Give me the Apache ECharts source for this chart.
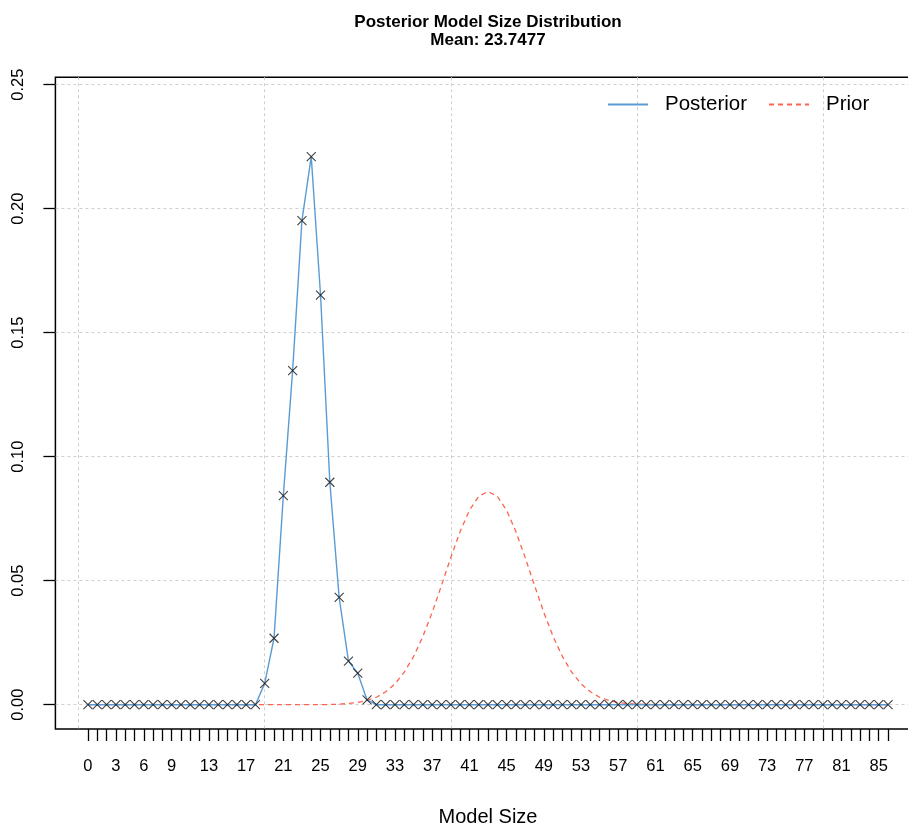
<!DOCTYPE html>
<html><head><meta charset="utf-8">
<script src="https://cdn.jsdelivr.net/npm/echarts@6/dist/echarts.min.js"></script>
<style>html,body{margin:0;padding:0;background:#fff}#chart{width:908px;height:825px}</style>
</head><body><div id="chart"></div>
<script>
const modelSize = [0,1,2,3,4,5,6,7,8,9,10,11,12,13,14,15,16,17,18,19,20,21,22,23,24,25,26,27,28,29,30,31,32,33,34,35,36,37,38,39,40,41,42,43,44,45,46,47,48,49,50,51,52,53,54,55,56,57,58,59,60,61,62,63,64,65,66,67,68,69,70,71,72,73,74,75,76,77,78,79,80,81,82,83,84,85,86];
const posterior = [0,0,0,0,0,0,0,0,0,0,0,0,0,0,0,0,0,0,0,
  0.0086,0.0268,0.0843,0.1347,0.1952,0.2210,0.1652,0.0897,0.0433,0.0176,0.0127,0.0019,
  0,0,0,0,0,0,0,0,0,0,0,0,0,0,0,0,0,0,0,0,0,0,0,0,0,0,0,0,0,0,0,0,0,0,0,0,0,0,0,0,0,0,0,0,0,0,0,0,0,0,0,0,0,0,0,0];
const prior = [0,0,0,0,0,0,0,0,0,0,0,0,0,0,0,0,0,0,0,0,0,0,0,0,0,0,
  0.0001,0.0002,0.0005,0.0009,0.0017,0.0030,0.0052,0.0084,0.0131,0.0194,0.0275,0.0372,0.0481,0.0593,0.0698,0.0784,0.0840,
  0.0860,
  0.0840,0.0784,0.0698,0.0593,0.0481,0.0372,0.0275,0.0194,0.0131,0.0084,0.0052,0.0030,0.0017,0.0009,0.0005,0.0002,0.0001,
  0,0,0,0,0,0,0,0,0,0,0,0,0,0,0,0,0,0,0,0,0,0,0,0,0,0];
const xTickLabels = [0,3,6,9,13,17,21,25,29,33,37,41,45,49,53,57,61,65,69,73,77,81,85];
const xGridLines = [-1,19,39,59,79];
const yTicks = [0,0.05,0.10,0.15,0.20,0.25];

const postPairs = posterior.map((v,i)=>[modelSize[i], v]);
const priorPairs = prior.map((v,i)=>[modelSize[i], v]);

const FONT = 'Liberation Sans, Arial, sans-serif';
const chart = echarts.init(document.getElementById('chart'), null, {renderer:'canvas'});
const XMIN = -3.5, XMAX = 89.5;
chart.setOption({
  animation: false,
  backgroundColor: '#fff',
  textStyle: {fontFamily: FONT},
  title: {
    text: 'Posterior Model Size Distribution\nMean: 23.7477',
    left: 483, textAlign: 'center', top: 8,
    textStyle: {fontSize: 17, fontWeight: 'bold', color: '#000', lineHeight: 18, fontFamily: FONT}
  },
  legend: {
    data: ['Posterior','Prior'],
    left: 602, top: 89,
    itemWidth: 40, itemHeight: 14, itemGap: 21,
    itemStyle: {opacity: 0, borderWidth: 0},
    textStyle: {fontSize: 20.5, color: '#000', fontFamily: FONT, padding: [0,0,0,12]}
  },
  grid: {left: 55.4, right: -12.6, top: 77.3, bottom: 96, show: true, borderColor: '#000', borderWidth: 1.5,
    backgroundColor: 'transparent', containLabel: false, outerBoundsMode: 'none'},
  xAxis: [{
    type: 'value', min: XMIN, max: XMAX,
    axisLine: {show: false, onZero: false},
    axisTick: {show: true, customValues: modelSize, length: 12, lineStyle: {color: '#000', width: 1.3}},
    axisLabel: {customValues: xTickLabels, fontSize: 16.5, color: '#000', margin: 29, fontFamily: FONT},
    splitLine: {show: false},
    name: 'Model Size', nameLocation: 'middle', nameGap: 78,
    nameTextStyle: {fontSize: 20, color: '#000', fontFamily: FONT}
  },{
    type: 'value', min: XMIN, max: XMAX,
    axisLine: {show: false, onZero: false},
    axisTick: {show: false, customValues: xGridLines},
    axisLabel: {show: false},
    splitLine: {show: true, lineStyle: {color: '#cfcfcf', type: [3,3], width: 1}}
  }],
  yAxis: {
    type: 'value', min: -0.0098, max: 0.2530,
    axisLine: {show: false, onZero: false},
    axisTick: {show: true, customValues: yTicks, length: 12, lineStyle: {color: '#000', width: 1.3}},
    axisLabel: {customValues: yTicks, rotate: 90, fontSize: 16.5, color: '#000', margin: 28, fontFamily: FONT,
      formatter: v => v.toFixed(2)},
    splitLine: {show: true, lineStyle: {color: '#cfcfcf', type: [3,3], width: 1}}
  },
  series: [{
    name: 'Posterior', type: 'line', xAxisIndex: 0, data: postPairs,
    showSymbol: false, color: '#5b9bd5', lineStyle: {width: 1.4, color: '#5b9bd5'}, z: 3
  },{
    name: 'Prior', type: 'line', xAxisIndex: 0, data: priorPairs,
    showSymbol: false, color: '#fa6450', lineStyle: {width: 1.3, color: '#fa6450', type: [5,4]}, z: 2
  },{
    name: 'points', type: 'scatter', xAxisIndex: 0, data: postPairs,
    symbol: 'path://M0,0L10,10M10,0L0,10', symbolSize: 9,
    itemStyle: {color: 'none', borderColor: '#111', borderWidth: 1.1},
    silent: true, z: 4
  }]
});
</script>
</body></html>
